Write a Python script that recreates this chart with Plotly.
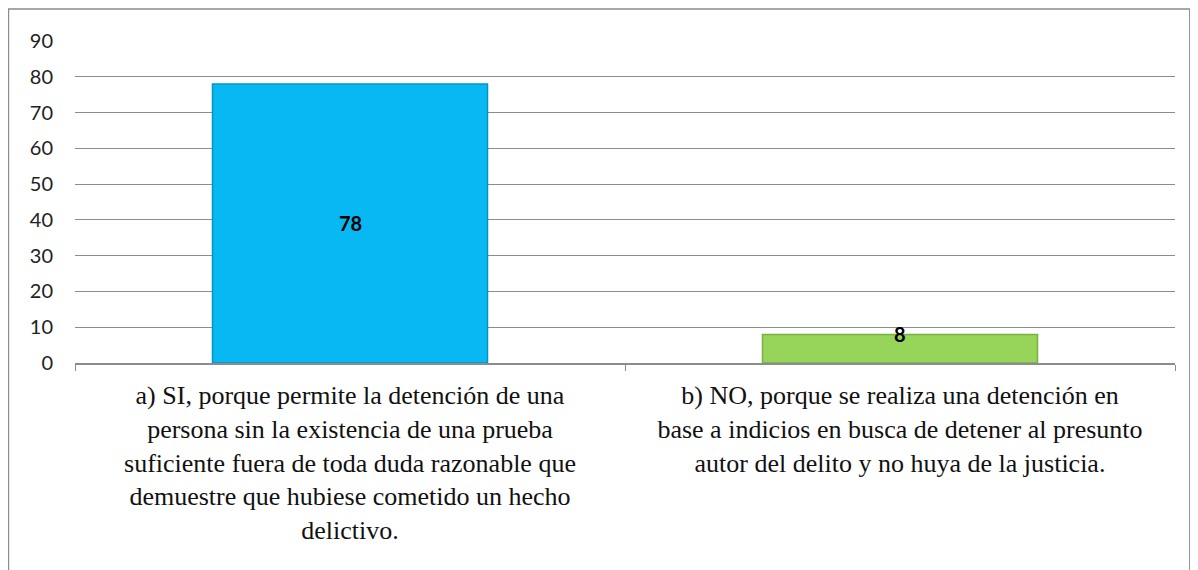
import plotly.graph_objects as go

categories = [
    "a) SI, porque permite la detención de una<br>persona sin la existencia de una prueba<br>suficiente fuera de toda duda razonable que<br>demuestre que hubiese cometido un hecho<br>delictivo.",
    "b) NO, porque se realiza una detención en<br>base a indicios en busca de detener al presunto<br>autor del delito y no huya de la justicia.",
]
values = [78, 8]
labels = ["78", "8"]
colors = ["#08B8F2", "#96D55A"]
line_colors = ["#0595C4", "#78B041"]
label_at_top = [False, True]
y_ticks = [0, 10, 20, 30, 40, 50, 60, 70, 80, 90]

fig = go.Figure()
fig.add_trace(go.Bar(
    x=categories, y=values, width=0.5,
    marker=dict(color=colors, line=dict(color=line_colors, width=1.5)),
    hoverinfo="skip",
))

for c, v, t, top in zip(categories, values, labels, label_at_top):
    fig.add_annotation(x=c, y=v if top else v / 2, text="<b>%s</b>" % t,
                       showarrow=False, xref="x", yref="y",
                       font=dict(family="Lato", size=20, color="#000000"))

fig.add_shape(type="rect", xref="paper", yref="paper",
              x0=-0.0605, x1=1.0135, y0=-0.72, y1=1.099,
              line=dict(color="#8C8C8C", width=1.5), fillcolor="rgba(0,0,0,0)", layer="below")

fig.update_layout(
    width=1190, height=562,
    margin=dict(l=67, r=23, t=33, b=207),
    paper_bgcolor="white", plot_bgcolor="white",
    showlegend=False,
    yaxis=dict(range=[0, 90], tickvals=y_ticks, showgrid=True, gridcolor="#8C8C8C", gridwidth=1,
               zeroline=False, showline=False, ticks="",
               ticklabelstandoff=21,
               tickfont=dict(family="Lato", size=20, color="#222222")),
    xaxis=dict(showgrid=False, showline=True, linecolor="#8C8C8C", linewidth=1.5,
               ticks="outside", tickson="boundaries", ticklen=6, tickcolor="#8C8C8C",
               ticklabelstandoff=8,
               tickfont=dict(family="Liberation Serif", size=26, color="#111111")),
)

fig.write_html("out.html")
